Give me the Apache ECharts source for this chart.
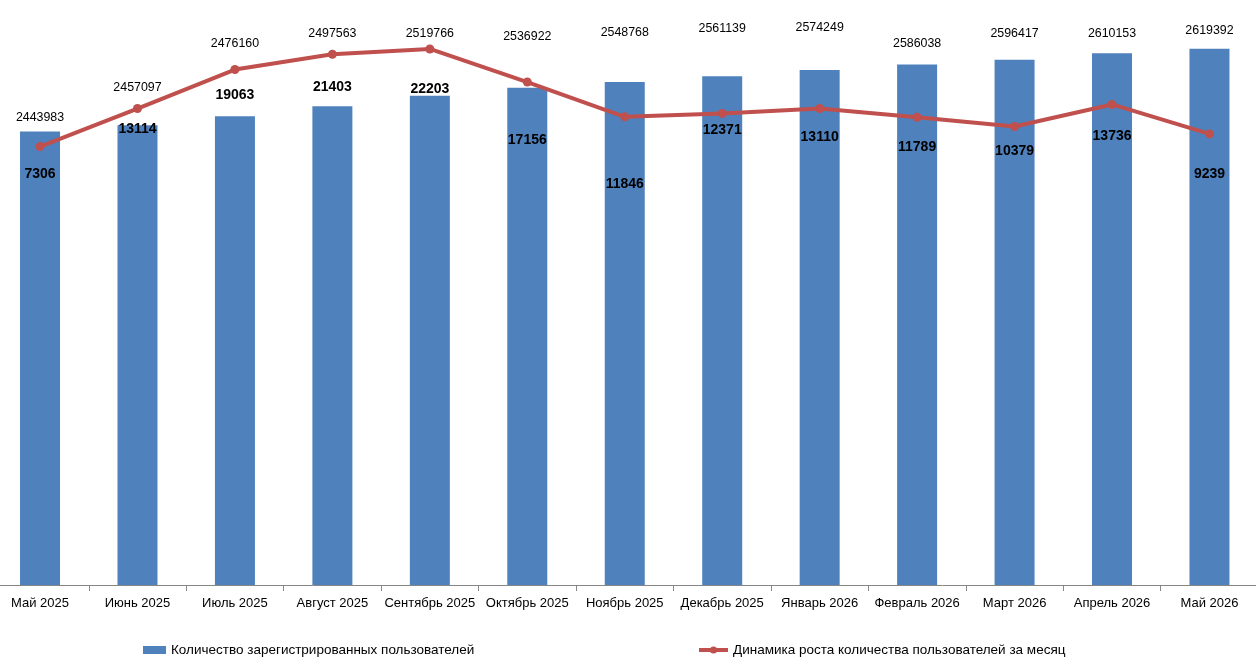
<!DOCTYPE html>
<html>
<head>
<meta charset="utf-8">
<title>Пользователи</title>
<script src="https://cdn.jsdelivr.net/npm/echarts@6/dist/echarts.min.js"></script>
<style>
  html, body { margin: 0; padding: 0; background: #fff; }
  #chart { width: 1256px; height: 672px; }
</style>
</head>
<body>
<div id="chart"></div>
<script>
const months = ['Май 2025', 'Июнь 2025', 'Июль 2025', 'Август 2025', 'Сентябрь 2025', 'Октябрь 2025', 'Ноябрь 2025',
  'Декабрь 2025', 'Январь 2026', 'Февраль 2026', 'Март 2026', 'Апрель 2026', 'Май 2026'];
const registered = [2443983, 2457097, 2476160, 2497563, 2519766, 2536922, 2548768, 2561139, 2574249, 2586038, 2596417, 2610153, 2619392];
const growth = [7306, 13114, 19063, 21403, 22203, 17156, 11846, 12371, 13110, 11789, 10379, 13736, 9239];

const barName = 'Количество зарегистрированных пользователей';
const lineName = 'Динамика роста количества пользователей за месяц';

// label nudges (px) like hand-placed labels in the original
const barLabelShift = [-14, -38, -73, -73, -62, -51, -50, -48, -43, -21, -26, -20, -18];
const lineLabelShift = [28, 21, 26, 33, 40, 58, 67, 17, 29, 30, 25, 32, 40];

const font = 'Liberation Sans, Arial, sans-serif';

const chart = echarts.init(document.getElementById('chart'));

chart.setOption({
  animation: false,
  backgroundColor: '#fff',
  textStyle: { fontFamily: font },
  grid: { left: -8.7, right: -2.2, top: 10, bottom: 87, outerBoundsMode: 'none', containLabel: false },
  legend: [
    {
      data: [barName], left: 138, top: 638, itemWidth: 23, itemHeight: 8, icon: 'rect',
      textStyle: { fontFamily: font, fontSize: 13.5, color: '#000' }
    },
    {
      data: [lineName], left: 692, top: 638, itemWidth: 29, itemHeight: 9,
      lineStyle: { width: 4 },
      textStyle: { fontFamily: font, fontSize: 13.5, color: '#000' }
    }
  ],
  xAxis: {
    type: 'category',
    data: months,
    axisLine: { onZero: false, lineStyle: { color: '#868686', width: 1 } },
    axisTick: { show: true, alignWithLabel: false, interval: 0, length: 6, lineStyle: { color: '#868686', width: 1 } },
    axisLabel: { fontFamily: font, fontSize: 13, color: '#000', margin: 12, interval: 0 }
  },
  yAxis: [
    { type: 'value', min: 1480000, max: 2702000, show: false, splitLine: { show: false } },
    { type: 'value', min: -59600, max: 28150, show: false, splitLine: { show: false } }
  ],
  series: [
    {
      name: barName,
      type: 'bar',
      yAxisIndex: 0,
      barWidth: 40,
      itemStyle: { color: '#4F81BD' },
      data: registered.map((v, i) => ({
        value: v,
        label: { offset: [0, barLabelShift[i]] }
      })),
      label: {
        show: true, position: 'top', distance: 0, verticalAlign: 'middle',
        fontFamily: font, fontSize: 12.4, color: '#000'
      }
    },
    {
      name: lineName,
      type: 'line',
      yAxisIndex: 1,
      symbol: 'circle',
      symbolSize: 9,
      lineStyle: { color: '#C0504D', width: 4 },
      itemStyle: { color: '#C0504D' },
      data: growth.map((v, i) => ({
        value: v,
        label: { offset: [0, lineLabelShift[i]] }
      })),
      label: {
        show: true, position: 'inside',
        fontFamily: font, fontSize: 14, fontWeight: 'bold', color: '#000'
      }
    }
  ]
});
</script>
</body>
</html>
